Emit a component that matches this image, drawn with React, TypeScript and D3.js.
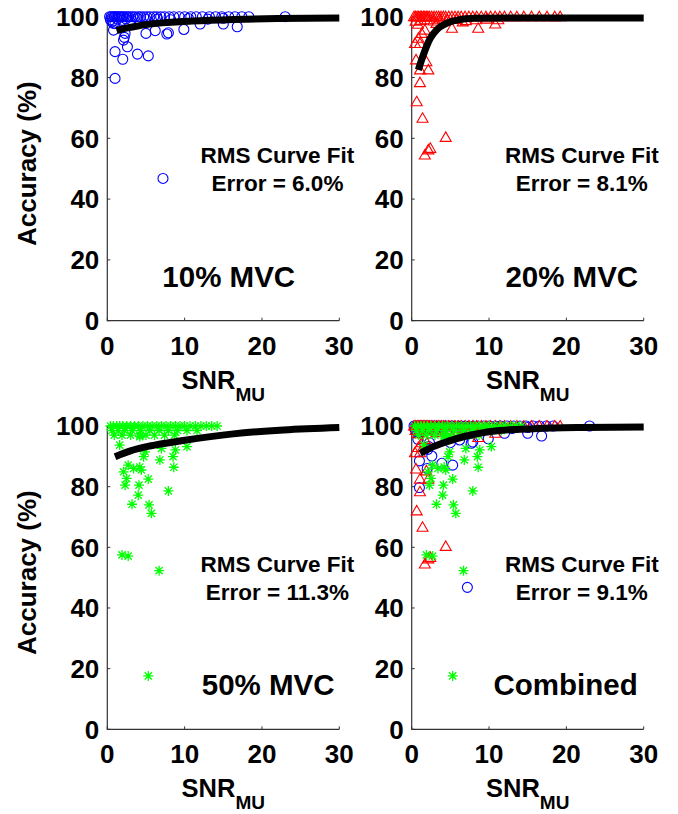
import React from 'react'
import * as d3 from 'd3'

// ---- data ----
// 10% MVC (blue circles)
const mvc10Snr = [
  0.3, 0.5, 0.7, 0.9, 1.0, 1.2, 1.4, 1.6, 1.8, 2.0, 2.2, 2.5, 2.7, 3.0, 3.3, 3.6, 4.0, 4.3, 4.7, 5.1,
  5.5, 6.0, 6.4, 6.9, 7.4, 8.0, 8.6, 9.3, 10.0, 10.8, 11.5, 12.3, 13.2, 14.0, 14.8, 15.7, 16.5, 17.4, 18.3, 23.0,
  0.4, 0.6, 0.8, 1.3, 1.9, 2.4, 3.1, 3.9, 5.0, 6.5, 8.2, 10.5, 13.0, 15.0,
  1.0, 1.0, 2.0, 2.6, 3.9, 5.3, 2.1, 2.2, 2.3, 5.0, 6.2, 7.7, 7.9, 9.9, 12.0, 15.0, 16.8, 7.2, 0.8, 1.0,
]
const mvc10Acc = [
  100, 100, 100, 100, 100, 100, 100, 100, 100, 100, 100, 100, 100, 100, 100, 100, 100, 100, 100, 100,
  100, 100, 100, 100, 100, 100, 100, 100, 100, 100, 100, 100, 100, 100, 100, 100, 100, 100, 100, 100,
  99, 98.3, 97.8, 99.2, 98.8, 99.3, 98.9, 99.4, 99.1, 99.3, 99.0, 99.4, 99.2, 99.5,
  79.7, 88.5, 86, 90.1, 87.7, 87.1, 92.3, 93.2, 94.5, 94.5, 95.4, 94.3, 94.7, 95.8, 97.6, 97.6, 96.7, 46.8, 95.6, 97.8,
]

// 20% MVC (red triangles)
const mvc20Snr = [
  0.3, 0.5, 0.7, 0.9, 1.1, 1.3, 1.5, 1.7, 1.9, 2.1, 2.3, 2.6, 2.9, 3.2, 3.5, 3.8, 4.1, 4.4, 4.8, 5.2,
  5.6, 6.0, 6.4, 6.9, 7.4, 7.9, 8.4, 9.0, 9.6, 10.2, 10.8, 11.4, 12.0, 12.8, 13.6, 14.5, 15.5, 16.5, 17.5, 18.5, 19.2,
  0.5, 0.8, 1.2, 2.0, 2.8, 3.6, 4.6, 5.8, 7.0, 8.3, 9.7, 11.2, 3.2, 6.6,
  0.65, 1.07, 1.4, 1.7, 2.15, 2.4, 4.4, 0.56, 1.07, 1.9, 2.15, 1.07, 0.86, 1.3, 1.7, 5.2, 8.6, 10.8, 0.43,
]
const mvc20Acc = [
  100, 100, 100, 100, 100, 100, 100, 100, 100, 100, 100, 100, 100, 100, 100, 100, 100, 100, 100, 100,
  100, 100, 100, 100, 100, 100, 100, 100, 100, 100, 100, 100, 100, 100, 100, 100, 100, 100, 100, 100, 100,
  98.5, 97.5, 98.8, 99, 98.6, 99.2, 98.8, 99.1, 98.7, 99.0, 99.2, 99.0, 97.8, 98.3,
  72, 78.3, 66.6, 54.5, 56.2, 56.7, 60.3, 85.8, 82.5, 85.2, 82.5, 91.2, 92.9, 94.5, 95.6, 96.2, 96.2, 97.6, 91.2,
]

// 50% MVC (green asterisks)
const mvc50Snr = [
  0.4, 0.8, 1.2, 1.6, 2.0, 2.5, 3.0, 3.5, 4.0, 4.6, 5.2, 5.8, 6.4, 7.0, 7.6, 8.2, 8.8, 9.4, 10.0, 10.7,
  11.4, 12.1, 12.8, 13.5, 14.2,
  0.6, 1.4, 2.2, 3.2, 4.3, 5.5, 6.7, 7.9, 9.1, 10.3, 11.6,
  0.9, 1.9, 3.0, 4.2, 5.0, 6.1, 7.4, 8.7,
  1.6, 4.2, 10.3, 7.0, 8.8, 8.5, 8.6, 6.8, 4.7, 4.4, 3.4, 2.7, 2.1, 2.5, 2.3, 4.1, 5.3, 4.0, 3.2, 5.4,
  5.7, 7.9, 1.9, 2.7, 6.7, 5.3, 4.2, 4.9,
]
const mvc50Acc = [
  100, 100, 100, 100, 100, 100, 100, 100, 100, 100, 100, 100, 100, 100, 100, 100, 100, 100, 100, 100,
  100, 100, 100, 100, 100,
  98.5, 98.5, 98.5, 98.5, 98.5, 98.5, 98.5, 98.5, 98.5, 98.5, 98.5,
  97, 97, 97, 97, 97, 97, 97, 97,
  93.7, 96.5, 93.2, 92.6, 92.1, 89.9, 86.4, 88.8, 89.9, 85.5, 86.0, 87.1, 84.9, 82.7, 80.5, 80.5, 82.5, 77.2, 74.2, 74.0,
  71.2, 78.6, 57.5, 57.1, 52.3, 17.6, 86.5, 91.5,
]

// black RMS fit curves
const fit10Snr = [1.2, 2, 3.4, 5, 7.7, 11, 16.3, 22, 30]
const fit10Acc = [95.4, 96.0, 96.7, 97.4, 98.1, 98.6, 99.1, 99.4, 99.6]
const fit20Snr = [0.86, 1.5, 2.4, 3.2, 4.5, 6.3, 8, 12, 20, 30]
const fit20Acc = [82.5, 87.4, 92.9, 95.6, 97.8, 99.1, 99.5, 99.6, 99.6, 99.6]
const fit50Snr = [1, 3, 5.5, 9.8, 16.3, 22.8, 30]
const fit50Acc = [89.9, 91.8, 93.4, 95.2, 97.4, 98.7, 99.5]
const fitAllSnr = [1.1, 2.8, 5, 7.1, 11.4, 15.8, 22, 30]
const fitAllAcc = [91, 93.2, 95.2, 96.7, 98.5, 99.1, 99.5, 99.7]

const panelTitles = ['10% MVC', '20% MVC', '50% MVC', 'Combined']
const rmsErrors = ['6.0', '8.1', '11.3', '9.1']
const titleSnr = [15.7, 20.7, 20.8, 19.9]

const xTicks = [0, 10, 20, 30]
const yTicks = [0, 20, 40, 60, 80, 100]

const FONT = "'Liberation Sans', Arial, Helvetica, sans-serif"

type Series = { kind: 'circle' | 'tri' | 'star'; snr: number[]; acc: number[] }

const s10: Series = { kind: 'circle', snr: mvc10Snr, acc: mvc10Acc }
const s20: Series = { kind: 'tri', snr: mvc20Snr, acc: mvc20Acc }
const s50: Series = { kind: 'star', snr: mvc50Snr, acc: mvc50Acc }

const panels = [
  { left: 107.3, top: 16.7, height: 304, series: [s10], fitX: fit10Snr, fitY: fit10Acc, ylabel: true },
  { left: 411.7, top: 16.7, height: 304, series: [s20], fitX: fit20Snr, fitY: fit20Acc, ylabel: false },
  { left: 107.3, top: 426, height: 303.3, series: [s50], fitX: fit50Snr, fitY: fit50Acc, ylabel: true },
  { left: 411.7, top: 426, height: 303.3, series: [s10, s20, s50], fitX: fitAllSnr, fitY: fitAllAcc, ylabel: false },
]

const Marker = ({ kind, x, y }: { kind: string; x: number; y: number }) => {
  if (kind === 'circle')
    return <circle cx={x} cy={y} r={5} fill="none" stroke="#0000ff" strokeWidth={1.1} />
  if (kind === 'tri')
    return (
      <path
        d={`M${x},${y - 5.5}L${x + 5.5},${y + 4}L${x - 5.5},${y + 4}Z`}
        fill="none"
        stroke="#ff0000"
        strokeWidth={1.1}
      />
    )
  const r = 5
  const q = r * 0.72
  return (
    <path
      d={`M${x},${y - r}V${y + r}M${x - r},${y}H${x + r}M${x - q},${y - q}L${x + q},${y + q}M${x - q},${y + q}L${x + q},${y - q}`}
      stroke="#00ff00"
      strokeWidth={1.3}
    />
  )
}

const Panel = ({ p, i }: { p: (typeof panels)[number]; i: number }) => {
  const width = 232
  const x = d3.scaleLinear().domain([0, 30]).range([p.left, p.left + width])
  const y = d3.scaleLinear().domain([0, 100]).range([p.top + p.height, p.top])
  const bottom = p.top + p.height
  const line = d3
    .line<number>()
    .x((d) => x(p.fitX[d]))
    .y((d) => y(p.fitY[d]))
    .curve(d3.curveMonotoneX)
  const mid = p.left + width / 2

  return (
    <g fontFamily={FONT} fontWeight="bold" fill="#000">
      {/* axes */}
      <path d={`M${p.left},${p.top}V${bottom}H${p.left + width}`} fill="none" stroke="#333" strokeWidth={1.2} />
      {yTicks.map((t) => (
        <g key={'y' + t}>
          <line x1={p.left} x2={p.left + 3} y1={y(t)} y2={y(t)} stroke="#333" />
          <text x={p.left - 8} y={y(t)} dy="0.36em" textAnchor="end" fontSize={26}>
            {t}
          </text>
        </g>
      ))}
      {xTicks.map((t) => (
        <g key={'x' + t}>
          <line x1={x(t)} x2={x(t)} y1={bottom} y2={bottom - 3} stroke="#333" />
          <text x={x(t)} y={bottom + 34} textAnchor="middle" fontSize={26}>
            {t}
          </text>
        </g>
      ))}
      <text x={mid} y={bottom + 68} textAnchor="middle" fontSize={25.5}>
        SNR
        <tspan fontSize={19} dy={12}>
          MU
        </tspan>
      </text>
      {p.ylabel && (
        <text
          transform={`translate(36,${p.top + p.height / 2 - 5}) rotate(-90)`}
          textAnchor="middle"
          fontSize={26}
        >
          Accuracy (%)
        </text>
      )}

      {/* scatter */}
      {p.series.map((s, si) => (
        <g key={si}>
          {s.snr.map((v, j) => (
            <Marker key={j} kind={s.kind} x={x(v)} y={y(s.acc[j])} />
          ))}
        </g>
      ))}

      {/* fit */}
      <path
        d={line(d3.range(p.fitX.length)) || ''}
        fill="none"
        stroke="#000"
        strokeWidth={7}
        strokeLinecap="butt"
      />

      {/* annotations */}
      <text x={x(22)} y={y(51.8)} textAnchor="middle" fontSize={22.5}>
        RMS Curve Fit
      </text>
      <text x={x(22)} y={y(42.7)} textAnchor="middle" fontSize={22.5}>
        Error = {rmsErrors[i]}%
      </text>
      <text x={x(titleSnr[i])} y={y(11.2)} textAnchor="middle" fontSize={29.5}>
        {panelTitles[i]}
      </text>
    </g>
  )
}

const App = () => {
  return (
    <svg
      width={678}
      height={814}
      style={{ position: 'absolute', left: 0, top: 0, background: '#fff' }}
    >
      <rect width={678} height={814} fill="#fff" />
      {panels.map((p, i) => (
        <Panel key={i} p={p} i={i} />
      ))}
    </svg>
  )
}

export default App
